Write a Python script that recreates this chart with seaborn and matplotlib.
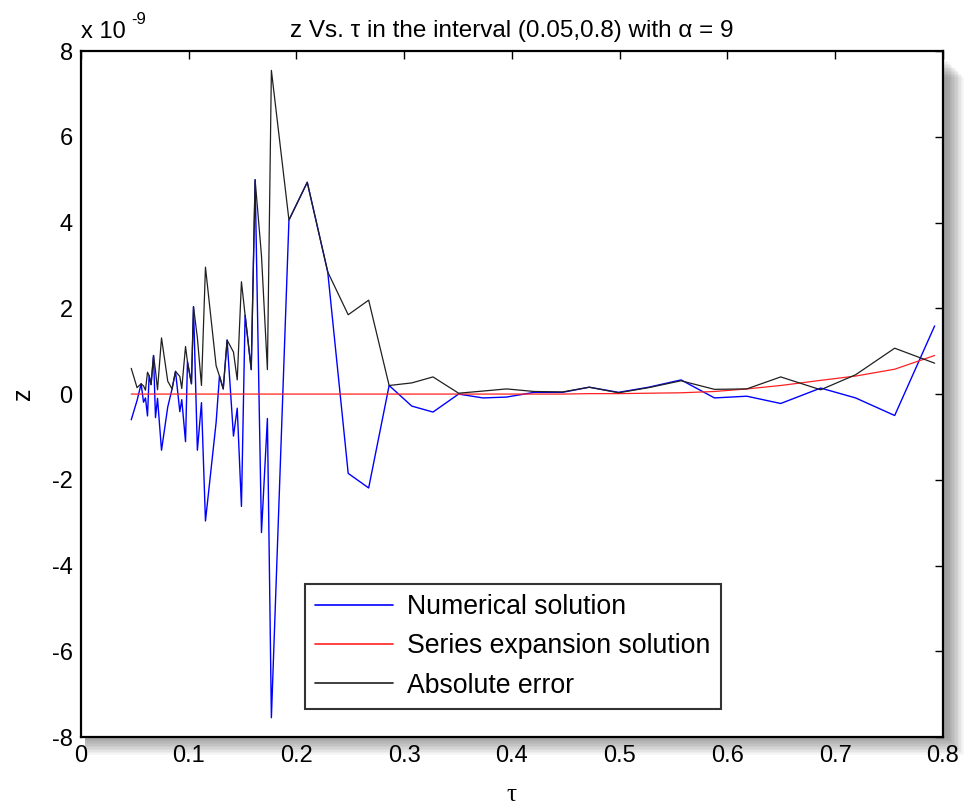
import numpy as np
import pandas as pd
import matplotlib
matplotlib.use("Agg")
import matplotlib.pyplot as plt
import matplotlib.patches as mpatches
import seaborn as sns

# ---- data (values in units of 1e-9) ----
tau = [0.0466, 0.0520, 0.0558, 0.0580, 0.0598, 0.0617, 0.0632, 0.0650, 0.0673, 0.0691,
       0.0710, 0.0747, 0.0805, 0.0845, 0.0877, 0.0917, 0.0935, 0.0970, 0.0988, 0.1025,
       0.1044, 0.1080, 0.1118, 0.1155, 0.1254, 0.1285, 0.1320, 0.1356, 0.1415, 0.1450,
       0.1489, 0.1523, 0.1580, 0.1616, 0.1675, 0.1730, 0.1767, 0.1930, 0.2100, 0.2290,
       0.2480, 0.2670, 0.2860, 0.3070, 0.3267, 0.3505, 0.3730, 0.3950, 0.4207, 0.4470,
       0.4717, 0.4990, 0.5270, 0.5570, 0.5880, 0.6180, 0.6495, 0.6866, 0.7190, 0.7553,
       0.7924]
numerical = [-0.60, -0.15, 0.24, -0.19, -0.09, -0.51, 0.43, 0.22, 0.90, -0.55,
             -0.10, -1.31, -0.30, 0.12, 0.53, -0.41, -0.13, -1.11, 0.75, 0.24,
             2.04, -1.31, -0.20, -2.96, -0.66, 0.42, 0.12, 1.26, -0.98, -0.33,
             -2.62, 1.84, 0.57, 5.00, -3.23, -0.57, -7.55, 4.06, 4.94, 2.85,
             -1.85, -2.19, 0.20, -0.28, -0.42, 0.00, -0.09, -0.07, 0.04, 0.04,
             0.16, 0.04, 0.16, 0.33, -0.09, -0.05, -0.22, 0.14, -0.09, -0.50,
             1.59]
series = [0.00, 0.00, 0.00, 0.00, 0.00, 0.00, 0.00, 0.00, 0.00, 0.00,
          0.00, 0.00, 0.00, 0.00, 0.00, 0.00, 0.00, 0.00, 0.00, 0.00,
          0.00, 0.00, 0.00, 0.00, 0.00, 0.00, 0.00, 0.00, 0.00, 0.00,
          0.00, 0.00, 0.00, 0.00, 0.00, 0.00, 0.00, 0.00, 0.00, 0.00,
          0.00, 0.00, 0.00, 0.00, 0.00, 0.00, 0.00, 0.00, 0.00, 0.00,
          0.01, 0.01, 0.02, 0.03, 0.06, 0.12, 0.20, 0.32, 0.42, 0.58,
          0.90]
abs_error = [0.60, 0.15, 0.24, 0.19, 0.09, 0.51, 0.43, 0.22, 0.90, 0.55,
             0.10, 1.31, 0.30, 0.12, 0.53, 0.41, 0.13, 1.11, 0.75, 0.24,
             2.04, 1.31, 0.20, 2.96, 0.66, 0.42, 0.12, 1.26, 0.98, 0.33,
             2.62, 1.84, 0.57, 5.00, 3.23, 0.57, 7.55, 4.06, 4.94, 2.85,
             1.85, 2.19, 0.20, 0.26, 0.40, 0.02, 0.07, 0.12, 0.06, 0.05,
             0.16, 0.03, 0.15, 0.31, 0.11, 0.12, 0.40, 0.10, 0.45, 1.07,
             0.72]

x_ticks = [0, 0.1, 0.2, 0.3, 0.4, 0.5, 0.6, 0.7, 0.8]
x_tick_labels = ["0", "0.1", "0.2", "0.3", "0.4", "0.5", "0.6", "0.7", "0.8"]
y_ticks = [-8, -6, -4, -2, 0, 2, 4, 6, 8]
y_tick_labels = ["-8", "-6", "-4", "-2", "0", "2", "4", "6", "8"]
labels = ["Numerical solution", "Series expansion solution", "Absolute error"]

df = pd.DataFrame({"tau": tau, "num": numerical, "ser": series, "err": abs_error})

sns.set_theme(style="white")
plt.rcParams["font.family"] = ["Liberation Sans", "DejaVu Sans"]
plt.rcParams["text.color"] = "black"
plt.rcParams["axes.labelcolor"] = "black"

fig = plt.figure(figsize=(9.74, 8.11), dpi=100)
fig.patch.set_facecolor("white")
L, B, R, T = 0.0832, 0.0912, 0.968, 0.937
ax = fig.add_axes([L, B, R - L, T - B])

# soft drop shadow behind the axes box
for i in range(12):
    d = (i + 1) * 0.0018
    sh = mpatches.Rectangle((L + 0.004, B - d), (R - L) + d * 0.8, (T - B) - 0.01,
                            transform=fig.transFigure, facecolor="black",
                            alpha=0.035, edgecolor="none", zorder=-10)
    fig.patches.append(sh)
ax.set_facecolor("white")
ax.set_zorder(1)

sns.lineplot(data=df, x="tau", y="num", ax=ax, color="#0000FF", lw=1.0,
             sort=False, estimator=None, label=labels[0])
sns.lineplot(data=df, x="tau", y="ser", ax=ax, color="#FF2020", lw=0.9,
             sort=False, estimator=None, label=labels[1])
sns.lineplot(data=df, x="tau", y="err", ax=ax, color="#202020", lw=0.9,
             sort=False, estimator=None, label=labels[2])

ax.set_xlim(0, 0.8)
ax.set_ylim(-8, 8)
ax.set_xticks(x_ticks)
ax.set_xticklabels(x_tick_labels)
ax.set_yticks(y_ticks)
ax.set_yticklabels(y_tick_labels)
ax.tick_params(direction="in", length=6, width=1, top=True, right=True,
               labelsize=17, pad=6, colors="black")
for s in ax.spines.values():
    s.set_color("black")
    s.set_linewidth(1.6)

ax.set_xlabel("τ", fontsize=18, family=["Liberation Serif", "DejaVu Serif"], labelpad=12)
ax.set_ylabel("z", fontsize=18, labelpad=12)
ax.set_title("z Vs. τ in the interval (0.05,0.8) with α = 9", fontsize=17.5, pad=10)
ax.text(0.0, 1.012, "x 10", transform=ax.transAxes, fontsize=17,
        ha="left", va="bottom")
ax.text(0.058, 1.035, "-9", transform=ax.transAxes, fontsize=12,
        ha="left", va="bottom")

leg = ax.legend(loc="lower left", bbox_to_anchor=(0.26, 0.041), fontsize=19.2,
                frameon=True, fancybox=False, edgecolor="black", handlelength=2.9,
                handletextpad=0.55, borderpad=0.38, labelspacing=0.5,
                borderaxespad=0.0)
leg.get_frame().set_linewidth(1.5)
for line in leg.get_lines():
    line.set_linewidth(1.2)
for t in leg.get_texts():
    t.set_color("black")

fig.savefig("out.png", dpi=100, facecolor="white")
